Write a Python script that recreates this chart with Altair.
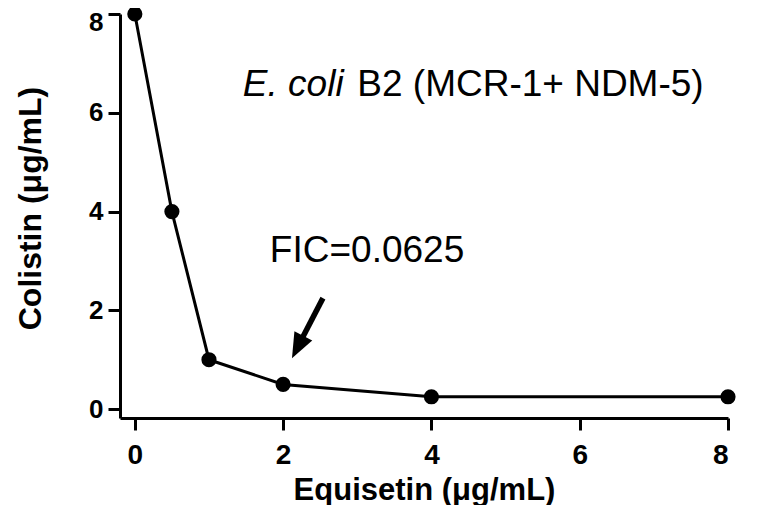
import altair as alt
import pandas as pd

# Data
equisetin = [0, 0.5, 1, 2, 4, 8]
colistin = [8, 4, 1, 0.5, 0.25, 0.25]

x_ticks = [0, 2, 4, 6, 8]
y_ticks = [0, 2, 4, 6, 8]

# Annotation anchors (data units)
title_italic = "E. coli"
title_rest = "B2 (MCR-1+ NDM-5)"
title_pos_italic = (1.457, 6.34)
title_pos_rest = (3.0, 6.34)
fic_label = "FIC=0.0625"
fic_pos = (1.821, 2.977)
arrow_start = (2.537, 2.247)
arrow_head = (2.196, 1.257)

FONT = "Liberation Sans"

df = pd.DataFrame({"x": equisetin, "y": colistin})

xscale = alt.Scale(domain=[-0.2, 8], nice=False, zero=False)
yscale = alt.Scale(domain=[-0.18, 8], nice=False, zero=False)

axis_common = dict(
    labelFont=FONT, labelFontWeight="bold", labelColor="black",
    titleFont=FONT, titleFontWeight="bold", titleColor="black",
    domainColor="black", domainWidth=3, tickColor="black", tickWidth=3,
    tickSize=12, grid=False, format="d",
)

x_enc = alt.X("x:Q", scale=xscale,
              axis=alt.Axis(values=x_ticks, title="Equisetin (μg/mL)",
                            labelFontSize=28, labelPadding=11,
                            titleFontSize=31,
                            titleBaseline="alphabetic", titleY=81,
                            **axis_common))
y_enc = alt.Y("y:Q", scale=yscale,
              axis=alt.Axis(values=y_ticks, title="Colistin (μg/mL)",
                            labelFontSize=26, labelPadding=5,
                            labelOffset={"condition": {"test": "datum.value == 8", "value": 8},
                                         "value": 0},
                            titleFontSize=32,
                            titleBaseline="alphabetic", titleX=-80, titleY=194,
                            **axis_common))

line = alt.Chart(df).mark_line(color="black", strokeWidth=3).encode(x=x_enc, y=y_enc)
points = alt.Chart(df).mark_circle(color="black", size=230, opacity=1).encode(
    x=x_enc, y=y_enc)

def text_layer(txt, pos, style="normal"):
    d = pd.DataFrame({"x": [pos[0]], "y": [pos[1]], "t": [txt]})
    return alt.Chart(d).mark_text(
        align="left", baseline="alphabetic", font=FONT, fontSize=37,
        fontStyle=style, color="black").encode(x=x_enc, y=y_enc, text="t:N")

t1 = text_layer(title_italic, title_pos_italic, "italic")
t2 = text_layer(title_rest, title_pos_rest)
t3 = text_layer(fic_label, fic_pos)

arrow_df = pd.DataFrame({"x": [arrow_start[0]], "y": [arrow_start[1]],
                         "x2": [arrow_head[0]], "y2": [arrow_head[1]]})
shaft = alt.Chart(arrow_df).mark_rule(color="black", strokeWidth=5.5).encode(
    x=x_enc, y=y_enc, x2="x2:Q", y2="y2:Q")
head_df = pd.DataFrame({"x": [arrow_head[0]], "y": [arrow_head[1]]})
head = alt.Chart(head_df).mark_point(
    shape="M0,1L-0.8,-1L0.8,-1Z", filled=True, size=625, angle=27,
    color="black", opacity=1).encode(x=x_enc, y=y_enc)

chart = alt.layer(line, points, shaft, head, t1, t2, t3).properties(
    width=608, height=404,
    autosize=alt.AutoSizeParams(type="none"),
    padding={"left": 112, "top": 6, "right": 34, "bottom": 87},
).configure(background="white").configure_view(stroke=None)

chart.save("out.html", embed_options={"renderer": "svg", "actions": False})
